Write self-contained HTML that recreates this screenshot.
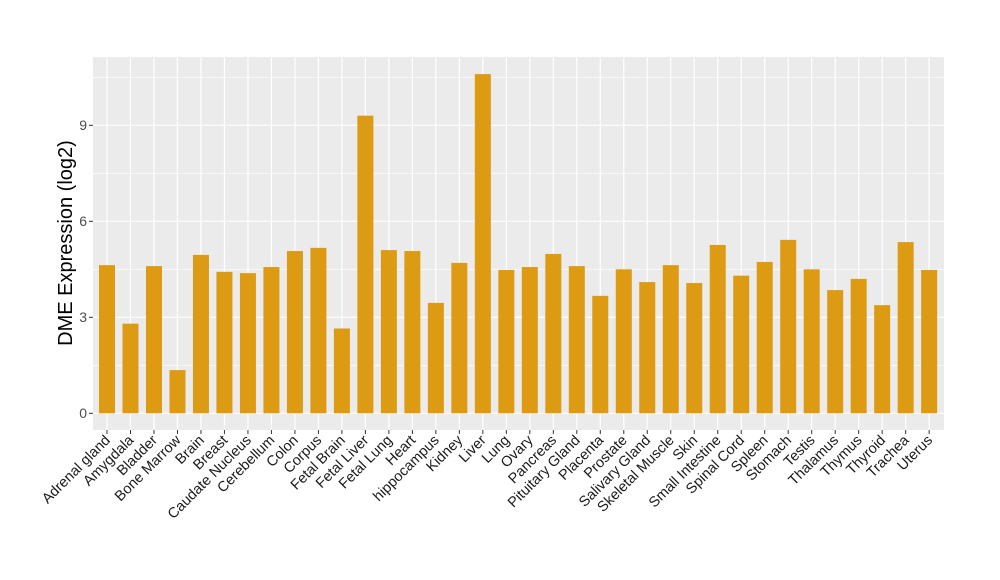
<!DOCTYPE html>
<html><head><meta charset="utf-8"><style>body{margin:0;background:#fff}svg{display:block}text{font-family:"Liberation Sans",Arial,sans-serif}</style></head>
<body>
<svg width="1000" height="580" viewBox="0 0 1000 580">
<rect x="93" y="57" width="851" height="373" fill="#ebebeb"/>
<g stroke="#fff" stroke-width="0.6">
<line x1="93" x2="944" y1="365.3" y2="365.3"/><line x1="93" x2="944" y1="269.3" y2="269.3"/><line x1="93" x2="944" y1="173.3" y2="173.3"/><line x1="93" x2="944" y1="77.3" y2="77.3"/>
</g>
<g stroke="#fff" stroke-width="1.2">
<line x1="93" x2="944" y1="413.3" y2="413.3"/><line x1="93" x2="944" y1="317.3" y2="317.3"/><line x1="93" x2="944" y1="221.3" y2="221.3"/><line x1="93" x2="944" y1="125.3" y2="125.3"/>
<g id="vg"></g>
</g>
<g id="bars" fill="#dd9a13"></g>
<g id="ticks" stroke="#333" stroke-width="1"></g>
<g font-size="14" fill="#4d4d4d" text-anchor="end">
<text x="87" y="418">0</text><text x="87" y="322">3</text><text x="87" y="226">6</text><text x="87" y="130">9</text>
</g>
<g stroke="#333"><line x1="89" x2="93" y1="413.3" y2="413.3"/><line x1="89" x2="93" y1="317.3" y2="317.3"/><line x1="89" x2="93" y1="221.3" y2="221.3"/><line x1="89" x2="93" y1="125.3" y2="125.3"/></g>
<text transform="translate(72,243) rotate(-90)" font-size="20" text-anchor="middle" fill="#000">DME Expression (log2)</text>
<g id="labels" font-size="14.5" fill="#1a1a1a" text-anchor="end">
<text transform="translate(111,441) rotate(-45)">Adrenal gland</text>
<text transform="translate(134.5,441) rotate(-45)">Amygdala</text>
<text transform="translate(158,441) rotate(-45)">Bladder</text>
<text transform="translate(181.5,441) rotate(-45)">Bone Marrow</text>
<text transform="translate(205,441) rotate(-45)">Brain</text>
<text transform="translate(228.5,441) rotate(-45)">Breast</text>
<text transform="translate(252,441) rotate(-45)">Caudate Nucleus</text>
<text transform="translate(275.4,441) rotate(-45)">Cerebellum</text>
<text transform="translate(298.9,441) rotate(-45)">Colon</text>
<text transform="translate(322.4,441) rotate(-45)">Corpus</text>
<text transform="translate(345.9,441) rotate(-45)">Fetal Brain</text>
<text transform="translate(369.4,441) rotate(-45)">Fetal Liver</text>
<text transform="translate(392.9,441) rotate(-45)">Fetal Lung</text>
<text transform="translate(416.4,441) rotate(-45)">Heart</text>
<text transform="translate(439.9,441) rotate(-45)">hippocampus</text>
<text transform="translate(463.4,441) rotate(-45)">Kidney</text>
<text transform="translate(486.8,441) rotate(-45)">Liver</text>
<text transform="translate(510.3,441) rotate(-45)">Lung</text>
<text transform="translate(533.8,441) rotate(-45)">Ovary</text>
<text transform="translate(557.3,441) rotate(-45)">Pancreas</text>
<text transform="translate(580.8,441) rotate(-45)">Pituitary Gland</text>
<text transform="translate(604.3,441) rotate(-45)">Placenta</text>
<text transform="translate(627.8,441) rotate(-45)">Prostate</text>
<text transform="translate(651.3,441) rotate(-45)">Salivary Gland</text>
<text transform="translate(674.8,441) rotate(-45)">Skeletal Muscle</text>
<text transform="translate(698.3,441) rotate(-45)">Skin</text>
<text transform="translate(721.7,441) rotate(-45)">Small Intestine</text>
<text transform="translate(745.2,441) rotate(-45)">Spinal Cord</text>
<text transform="translate(768.7,441) rotate(-45)">Spleen</text>
<text transform="translate(792.2,441) rotate(-45)">Stomach</text>
<text transform="translate(815.7,441) rotate(-45)">Testis</text>
<text transform="translate(839.2,441) rotate(-45)">Thalamus</text>
<text transform="translate(862.7,441) rotate(-45)">Thymus</text>
<text transform="translate(886.2,441) rotate(-45)">Thyroid</text>
<text transform="translate(909.7,441) rotate(-45)">Trachea</text>
<text transform="translate(933.2,441) rotate(-45)">Uterus</text>
</g>
</svg>
<script>
var v=[4.63,2.8,4.6,1.35,4.95,4.42,4.38,4.57,5.07,5.17,2.65,9.3,5.1,5.07,3.45,4.7,10.6,4.48,4.57,4.98,4.6,3.67,4.5,4.1,4.63,4.07,5.26,4.3,4.73,5.42,4.5,3.85,4.2,3.38,5.35,4.48];
var ns="http://www.w3.org/2000/svg",b=document.getElementById("bars"),t=document.getElementById("ticks"),g=document.getElementById("vg");
v.forEach(function(val,i){var cx=107+23.49*i;
var r=document.createElementNS(ns,"rect");r.setAttribute("x",cx-8);r.setAttribute("width",16);r.setAttribute("y",413.3-val*32);r.setAttribute("height",val*32);b.appendChild(r);
var l=document.createElementNS(ns,"line");l.setAttribute("x1",cx);l.setAttribute("x2",cx);l.setAttribute("y1",430);l.setAttribute("y2",434);t.appendChild(l);
var m=document.createElementNS(ns,"line");m.setAttribute("x1",cx);m.setAttribute("x2",cx);m.setAttribute("y1",57);m.setAttribute("y2",430);g.appendChild(m);});
</script>
</body></html>
